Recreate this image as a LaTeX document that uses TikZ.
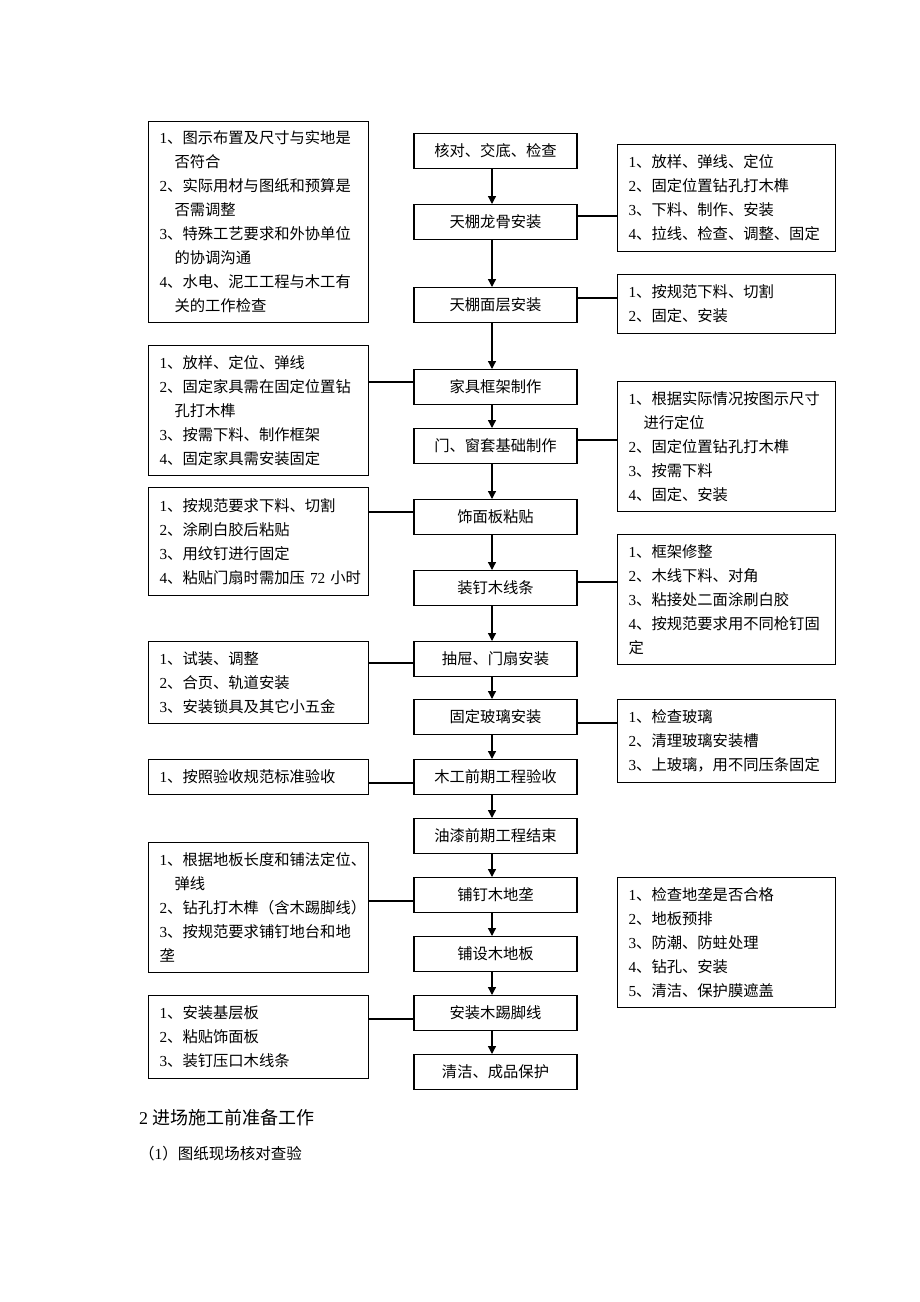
\documentclass[tikz,border=0pt]{standalone}
\usepackage{fontspec}
\newfontfamily\cjk{Noto Sans CJK SC}
\newfontfamily\lat{Liberation Serif}
\newcommand\dg[1]{{\lat #1}}
\newcommand\ind{\hspace*{15pt}}
\usetikzlibrary{arrows.meta}
\begin{document}
\begin{tikzpicture}[x=1pt,y=-1pt,
 every node/.style={font=\cjk\fontsize{15.3}{24}\selectfont},
 cbox/.style={draw,line width=1.1pt,minimum width=163pt,minimum height=35pt,inner sep=0pt,anchor=north},
 lbox/.style={draw,line width=1.1pt,text width=198pt,inner xsep=11pt,inner ysep=0pt,align=left,anchor=north west,minimum height=#1},
 rbox/.style={draw,line width=1.1pt,text width=196pt,inner xsep=11pt,inner ysep=0pt,align=left,anchor=north west,minimum height=#1},
 arr/.style={line width=1.3pt,-{Triangle[length=8pt,width=8pt]}},
 conn/.style={line width=1.1pt}]
\useasboundingbox (0,0) rectangle (920,1302);
% center column
\node[cbox] (c1) at (495.5,133) {核对、交底、检查};
\node[cbox] (c2) at (495.5,204) {天棚龙骨安装};
\node[cbox] (c3) at (495.5,287) {天棚面层安装};
\node[cbox] (c4) at (495.5,369) {家具框架制作};
\node[cbox] (c5) at (495.5,428) {门、窗套基础制作};
\node[cbox] (c6) at (495.5,499) {饰面板粘贴};
\node[cbox] (c7) at (495.5,570) {装钉木线条};
\node[cbox] (c8) at (495.5,641) {抽屉、门扇安装};
\node[cbox] (c9) at (495.5,699) {固定玻璃安装};
\node[cbox] (c10) at (495.5,759) {木工前期工程验收};
\node[cbox] (c11) at (495.5,818) {油漆前期工程结束};
\node[cbox] (c12) at (495.5,877) {铺钉木地垄};
\node[cbox] (c13) at (495.5,936) {铺设木地板};
\node[cbox] (c14) at (495.5,995) {安装木踢脚线};
\node[cbox] (c15) at (495.5,1054) {清洁、成品保护};
\foreach \a/\b in {c1/c2,c2/c3,c3/c4,c4/c5,c5/c6,c6/c7,c7/c8,c8/c9,c9/c10,c10/c11,c11/c12,c12/c13,c13/c14,c14/c15}
  \draw[arr] ([xshift=-3.5pt]\a.south) -- ([xshift=-3.5pt]\b.north);
% left boxes
\node[lbox=201pt] (L1) at (148,121) {\dg{1}、图示布置及尺寸与实地是\\\ind 否符合\\\dg{2}、实际用材与图纸和预算是\\\ind 否需调整\\\dg{3}、特殊工艺要求和外协单位\\\ind 的协调沟通\\\dg{4}、水电、泥工工程与木工有\\\ind 关的工作检查};
\node[lbox=130pt] (L2) at (148,345) {\dg{1}、放样、定位、弹线\\\dg{2}、固定家具需在固定位置钻\\\ind 孔打木榫\\\dg{3}、按需下料、制作框架\\\dg{4}、固定家具需安装固定};
\node[lbox=108pt] (L3) at (148,487) {\dg{1}、按规范要求下料、切割\\\dg{2}、涂刷白胶后粘贴\\\dg{3}、用纹钉进行固定\\\mbox{\dg{4}、粘贴门扇时需加压~\dg{72}~小时}};
\node[lbox=82pt] (L4) at (148,641) {\dg{1}、试装、调整\\\dg{2}、合页、轨道安装\\\dg{3}、安装锁具及其它小五金};
\node[lbox=35pt] (L5) at (148,759) {\dg{1}、按照验收规范标准验收};
\node[lbox=130pt] (L6) at (148,842) {\dg{1}、根据地板长度和铺法定位、\\\ind 弹线\\\dg{2}、钻孔打木榫（含木踢脚线）\\\dg{3}、按规范要求铺钉地台和地\\垄};
\node[lbox=83pt] (L7) at (148,995) {\dg{1}、安装基层板\\\dg{2}、粘贴饰面板\\\dg{3}、装钉压口木线条};
% right boxes
\node[rbox=107pt] (R1) at (617,144) {\dg{1}、放样、弹线、定位\\\dg{2}、固定位置钻孔打木榫\\\dg{3}、下料、制作、安装\\\dg{4}、拉线、检查、调整、固定};
\node[rbox=59pt] (R2) at (617,274) {\dg{1}、按规范下料、切割\\\dg{2}、固定、安装};
\node[rbox=130pt] (R3) at (617,381) {\dg{1}、根据实际情况按图示尺寸\\\ind 进行定位\\\dg{2}、固定位置钻孔打木榫\\\dg{3}、按需下料\\\dg{4}、固定、安装};
\node[rbox=130pt] (R4) at (617,534) {\dg{1}、框架修整\\\dg{2}、木线下料、对角\\\dg{3}、粘接处二面涂刷白胶\\\dg{4}、按规范要求用不同枪钉固\\定};
\node[rbox=83pt] (R5) at (617,699) {\dg{1}、检查玻璃\\\dg{2}、清理玻璃安装槽\\\dg{3}、上玻璃，用不同压条固定};
\node[rbox=130pt] (R6) at (617,877) {\dg{1}、检查地垄是否合格\\\dg{2}、地板预排\\\dg{3}、防潮、防蛀处理\\\dg{4}、钻孔、安装\\\dg{5}、清洁、保护膜遮盖};
% connector levels
\coordinate (k1) at (0,216);
\coordinate (k2) at (0,298);
\coordinate (k3) at (0,382);
\coordinate (k4) at (0,440);
\coordinate (k5) at (0,512);
\coordinate (k6) at (0,582);
\coordinate (k7) at (0,663);
\coordinate (k8) at (0,723);
\coordinate (k9) at (0,783);
\coordinate (k10) at (0,901);
\coordinate (k11) at (0,1019);
\draw[conn] (c2.east |- k1) -- (R1.west |- k1);
\draw[conn] (c3.east |- k2) -- (R2.west |- k2);
\draw[conn] (L2.east |- k3) -- (c4.west |- k3);
\draw[conn] (c5.east |- k4) -- (R3.west |- k4);
\draw[conn] (L3.east |- k5) -- (c6.west |- k5);
\draw[conn] (c7.east |- k6) -- (R4.west |- k6);
\draw[conn] (L4.east |- k7) -- (c8.west |- k7);
\draw[conn] (c9.east |- k8) -- (R5.west |- k8);
\draw[conn] (L5.east |- k9) -- (c10.west |- k9);
\draw[conn] (L6.east |- k10) -- (c12.west |- k10);
\draw[conn] (L7.east |- k11) -- (c14.west |- k11);
% text below
\node[anchor=west,inner sep=0pt,font=\cjk\fontsize{18}{22}\selectfont] (t1) at (139,1118) {\dg{2} 进场施工前准备工作};
\node[anchor=west,inner sep=0pt,font=\cjk\fontsize{15.5}{20}\selectfont] (t2) at (139,1154) {（\dg{1}）图纸现场核对查验};
\end{tikzpicture}
\end{document}
